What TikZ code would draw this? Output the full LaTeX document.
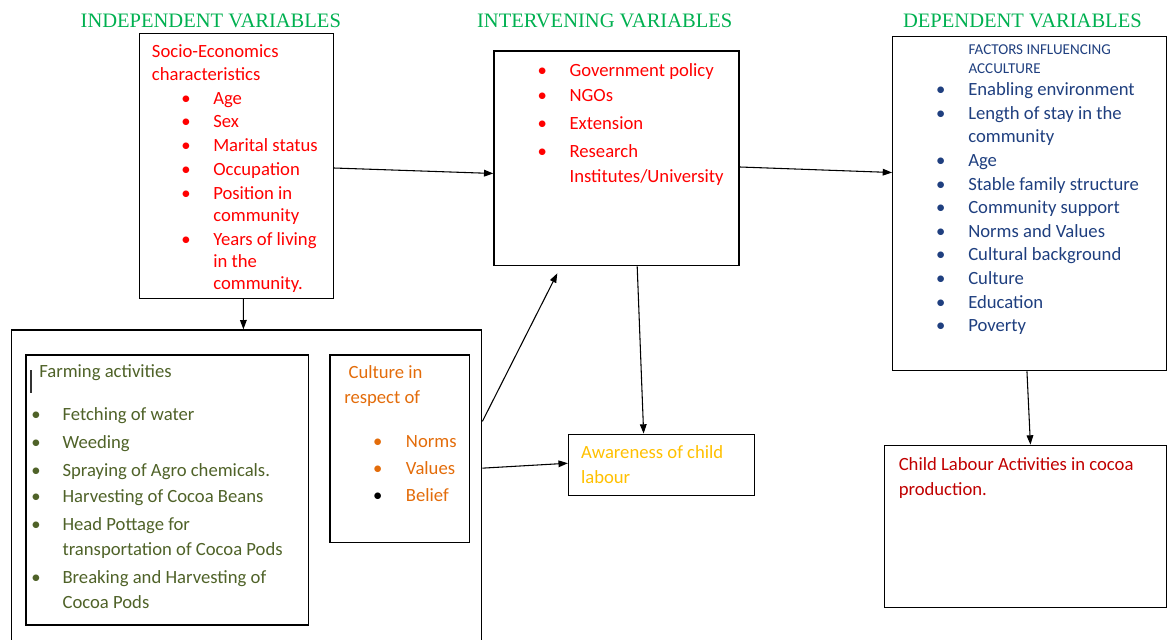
\documentclass[tikz,border=0pt]{standalone}
\usepackage{fontspec}
\setmainfont{Carlito}
\newfontfamily\titlefont{Liberation Serif}
\usetikzlibrary{arrows.meta,calc,fit}
\definecolor{tgreen}{HTML}{00B050}
\definecolor{sered}{HTML}{FF0000}
\definecolor{depblue}{HTML}{1F3F7F}
\definecolor{olive}{HTML}{4F6228}
\definecolor{cult}{HTML}{E36C0A}
\definecolor{gold}{HTML}{FFC000}
\definecolor{dred}{HTML}{C00000}
\newcommand\txtlist[5]{%
  \foreach \myy/\mybul/\mytext [count=\ii] in {#5}{%
    \node[#2] (#1t\ii) at (#4,\myy) {\mytext};
    \ifnum\mybul=1 \node[#2,anchor=base] (#1b\ii) at (#3,\myy) {\textbullet};\fi
  }}
\begin{document}
\begin{tikzpicture}[x=0.75pt,y=-0.75pt,
  box/.style={draw=black,line width=1pt,inner sep=0pt},
  txt/.style={anchor=base west,inner sep=0pt,font=\fontsize{14}{17}\selectfont},
  ttl/.style={anchor=base,inner sep=0pt,text=tgreen,font=\titlefont\fontsize{15.4}{18}\selectfont},
  arr/.style={draw=black,line width=0.8pt,-{Triangle[length=7pt,width=5pt]}},
  conn/.style={draw=black,line width=0.8pt}]
\useasboundingbox (0,0) rectangle (1167,639);

% titles
\node[ttl] (t1) at (210.8,27.3) {INDEPENDENT VARIABLES};
\node[ttl] (t2) at (604.7,27.3) {INTERVENING VARIABLES};
\node[ttl] (t3) at (1022.4,27.3) {DEPENDENT VARIABLES};

% boxes
\node[box,fit={(139.3,33.3) (333.3,298.3)}] (socio) {};
\node[box,fit={(494,51) (739,265.7)}] (inter) {};
\node[box,fit={(892.7,36.7) (1166.7,370.7)}] (dep) {};
\node[box,fit={(11.7,330) (481.7,650)}] (big) {};
\node[box,fit={(26,355) (308.3,625)}] (farm) {};
\node[box,fit={(330,355) (469.3,542.7)}] (cult) {};
\node[box,fit={(568.5,434.3) (754.8,495.7)}] (aware) {};
\node[box,fit={(884.5,445.3) (1166.7,607.3)}] (child) {};

% socio-economic text
\node[txt,text=sered] (se1) at (151.7,57) {Socio-Economics};
\node[txt,text=sered] (se2) at (151.7,80) {characteristics};
\txtlist{se}{txt,text=sered}{186}{213}{104/1/Age,127.7/1/Sex,151.7/1/Marital status,175/1/Occupation,199/1/Position in,221/0/community,245/1/Years of living,267/0/in the,289/0/community.}

% intervening text
\txtlist{iv}{txt,text=sered}{542.3}{569.3}{76/1/Government policy,101.7/1/NGOs,129/1/Extension,157.3/1/Research,182.7/0/{Institutes/University}}

% dependent text
\node[txt,text=depblue,font=\fontsize{11.3}{13}\selectfont] (dp1) at (968.3,54.3) {FACTORS INFLUENCING};
\node[txt,text=depblue,font=\fontsize{11.3}{13}\selectfont] (dp2) at (968.3,73.3) {ACCULTURE};
\txtlist{dv}{txt,text=depblue}{940.7}{968}{95.7/1/Enabling environment,119/1/Length of stay in the,142.7/0/community,166.7/1/Age,190/1/Stable family structure,213.3/1/Community support,237.3/1/Norms and Values,260.7/1/Cultural background,284.3/1/Culture,308.3/1/Education,331.7/1/Poverty}

% farming text
\draw[line width=1.2pt,draw=black!80] (31,370) coordinate (cur1) -- (31,393.3) coordinate (cur2);
\node[txt,text=olive] (fa1) at (39,377.3) {Farming activities};
\txtlist{fm}{txt,text=olive}{36}{62.3}{420.7/1/Fetching of water,448.3/1/Weeding,476/1/Spraying of Agro chemicals.,502.7/1/Harvesting of Cocoa Beans,530/1/Head Pottage for,555/0/transportation of Cocoa Pods,583.3/1/Breaking and Harvesting of,608.3/0/Cocoa Pods}

% culture text
\node[txt,text=cult] (cu1) at (348.3,378.7) {Culture in};
\node[txt,text=cult] (cu2) at (344,403.3) {respect of};
\node[txt,text=cult,anchor=base] (cub1) at (377.7,447.7) {\textbullet};
\node[txt,text=cult] (cut1) at (405.7,447.7) {Norms};
\node[txt,text=cult,anchor=base] (cub2) at (377.7,474.3) {\textbullet};
\node[txt,text=cult] (cut2) at (405.7,474.3) {Values};
\node[txt,text=black,anchor=base] (cub3) at (377.7,501) {\textbullet};
\node[txt,text=cult] (cut3) at (405.7,501) {Belief};

% awareness text
\node[txt,text=gold] (aw1) at (580.8,458.3) {Awareness of child};
\node[txt,text=gold] (aw2) at (580.8,483.3) {labour};

% child labour text
\node[txt,text=dred] (cl1) at (898.5,470) {Child Labour Activities in cocoa};
\node[txt,text=dred] (cl2) at (898.5,495) {production.};

% connectors
\draw[arr] (socio.east |- 0,168) -- ($(inter.north west)!0.57!(inter.south west)$);
\draw[arr] ($(inter.north east)!0.54!(inter.south east)$) -- ($(dep.north west)!0.407!(dep.south west)$);
\draw[arr] ($(socio.south west)!0.536!(socio.south east)$) -- ($(big.north west)!0.493!(big.north east)$);
\coordinate (ivtip) at (557.3,273.3);
\draw[arr] ($(big.north east)!0.2866!(big.south east)$) -- (ivtip);
\draw[arr] ($(inter.south west)!0.584!(inter.south east)$) -- ($(aware.north west)!0.404!(aware.north east)$);
\draw[arr] ($(big.north east)!0.432!(big.south east)$) -- ($(aware.north west)!0.472!(aware.south west)$);
\draw[arr] ($(dep.south west)!0.49!(dep.south east)$) -- ($(child.north west)!0.517!(child.north east)$);
\end{tikzpicture}
\end{document}
